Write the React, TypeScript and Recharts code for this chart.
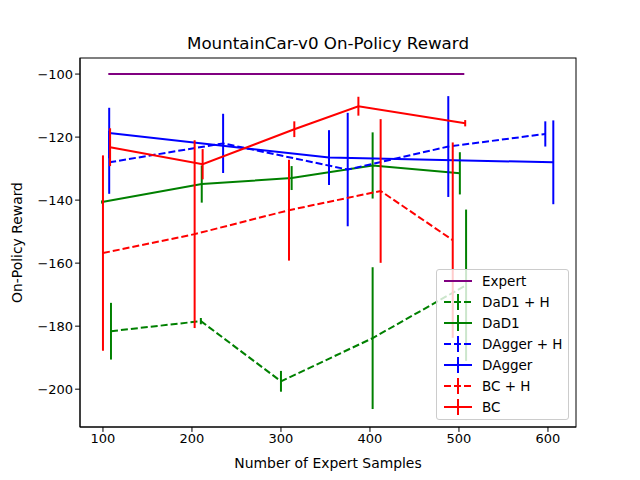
import React from "react";
import { ComposedChart, Line, XAxis, YAxis, ErrorBar, Customized } from "recharts";

const expert = [{ x: 106, y: -100 }, { x: 506, y: -100 }];
const dad1H = [
  { x: 109, y: -181.6, e: 9 },
  { x: 210, y: -178.4, e: 1 },
  { x: 300, y: -197.5, e: 3.3 },
  { x: 403, y: -183.8, e: 22.5 },
  { x: 508, y: -167, e: 24 },
];
const dad1 = [
  { x: 99, y: -140.6, e: 0.5 },
  { x: 211, y: -134.9, e: 5.9 },
  { x: 312, y: -133, e: 3.8 },
  { x: 403, y: -129, e: 10.5 },
  { x: 501, y: -131.5, e: 6.7 },
];
const daggerH = [
  { x: 107, y: -128, e: 10 },
  { x: 235, y: -122, e: 9.4 },
  { x: 375, y: -130.3, e: 18 },
  { x: 488, y: -123, e: 16 },
  { x: 597, y: -119, e: 4 },
];
const dagger = [
  { x: 107, y: -118.7, e: 8 },
  { x: 354, y: -126.5, e: 8.7 },
  { x: 606, y: -128, e: 13.3 },
];
const bcH = [
  { x: 100, y: -156.8, e: 31 },
  { x: 203, y: -150.8, e: 29.8 },
  { x: 309, y: -143.2, e: 16 },
  { x: 412, y: -137.1, e: 22.8 },
  { x: 493, y: -152.7, e: 31 },
];
const bc = [
  { x: 108, y: -123.2, e: 6 },
  { x: 212, y: -128.6, e: 4.8 },
  { x: 315, y: -117.5, e: 2.5 },
  { x: 387, y: -110.2, e: 3 },
  { x: 507, y: -115.6, e: 1 },
];
const xTicks = [100, 200, 300, 400, 500, 600];
const yTicks = [-200, -180, -160, -140, -120, -100];

const legendItems = [
  { name: "Expert", color: "purple", dash: false, bar: false },
  { name: "DaD1 + H", color: "green", dash: true, bar: true },
  { name: "DaD1", color: "green", dash: false, bar: true },
  { name: "DAgger + H", color: "blue", dash: true, bar: true },
  { name: "DAgger", color: "blue", dash: false, bar: true },
  { name: "BC + H", color: "red", dash: true, bar: true },
  { name: "BC", color: "red", dash: false, bar: true },
];

const font = "DejaVu Sans, sans-serif";
const fmt = (v: number) => String(v).replace("-", "\u2212");

const series = [
  { d: dad1H, c: "green", dash: true },
  { d: dad1, c: "green", dash: false },
  { d: daggerH, c: "blue", dash: true },
  { d: dagger, c: "blue", dash: false },
  { d: bcH, c: "red", dash: true },
  { d: bc, c: "red", dash: false },
];

export default function App() {
  return (
    <div style={{ position: "absolute", left: 0, top: 0, width: 640, height: 480, background: "#fff", fontFamily: font }}>
      <div style={{ position: "absolute", top: 33, left: 80, width: 496, textAlign: "center", fontSize: 16.7 }}>
        MountainCar-v0 On-Policy Reward
      </div>
      <ComposedChart width={640} height={480} margin={{ top: 58, right: 64, bottom: 0, left: 0 }}>
        <XAxis
          type="number"
          dataKey="x"
          domain={[74.2, 631.5]}
          ticks={xTicks}
          height={53}
          allowDuplicatedCategory={false}
          tick={{ fill: "#000", fontSize: 13, fontFamily: font }}
          tickLine={{ stroke: "#000" }}
          tickSize={4.9}
          axisLine={{ stroke: "#000" }}
          label={{ value: "Number of Expert Samples", position: "insideBottom", offset: 12, fill: "#000", fontSize: 13.9, fontFamily: font }}
        />
        <YAxis
          type="number"
          domain={[-212, -94.9]}
          ticks={yTicks}
          width={80}
          tickFormatter={fmt}
          tick={{ fill: "#000", fontSize: 13, fontFamily: font }}
          tickLine={{ stroke: "#000" }}
          tickSize={4.9}
          axisLine={{ stroke: "#000" }}
          label={{ value: "On-Policy Reward", angle: -90, position: "insideLeft", offset: 17, fill: "#000", fontSize: 13.9, fontFamily: font, style: { textAnchor: "middle" } }}
        />
        <Line data={expert} dataKey="y" stroke="purple" strokeWidth={2} dot={false} isAnimationActive={false} />
        {series.map((s, i) => (
          <Line
            key={i}
            data={s.d}
            dataKey="y"
            stroke={s.c}
            strokeWidth={2}
            strokeDasharray={s.dash ? "7 3" : undefined}
            dot={false}
            isAnimationActive={false}
          >
            <ErrorBar dataKey="e" direction="y" width={0} stroke={s.c} strokeWidth={2} />
          </Line>
        ))}
        <Customized component={() => <rect x={80} y={58} width={496} height={369} fill="none" stroke="#000" strokeWidth={1} />} />
      </ComposedChart>
      <div style={{ position: "absolute", left: 436, top: 269, width: 131, height: 149, border: "1px solid #ccc", borderRadius: 3, background: "rgba(255,255,255,0.8)", fontSize: 13.5 }}>
        {legendItems.map((it, i) => (
          <div key={i} style={{ position: "absolute", left: 5, top: 1 + i * 21, height: 20, display: "flex", alignItems: "center" }}>
            <svg width={30} height={20}>
              <line x1={2} y1={10} x2={30} y2={10} stroke={it.color} strokeWidth={2} strokeDasharray={it.dash ? "7 3" : undefined} />
              {it.bar && <line x1={16} y1={2} x2={16} y2={18} stroke={it.color} strokeWidth={2} />}
            </svg>
            <span style={{ marginLeft: 10 }}>{it.name}</span>
          </div>
        ))}
      </div>
    </div>
  );
}
